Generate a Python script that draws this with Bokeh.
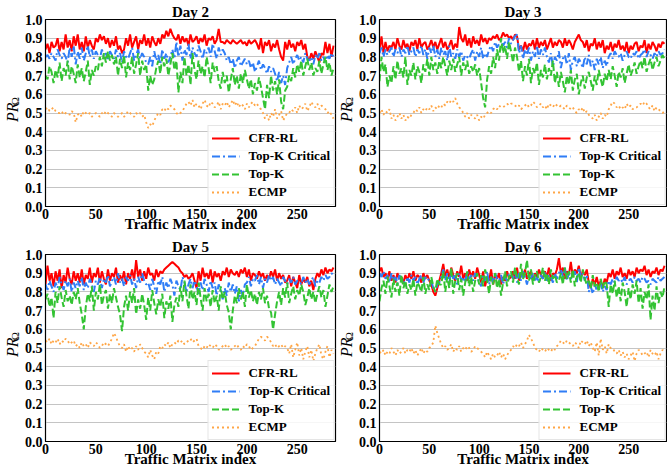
from bokeh.plotting import figure
from bokeh.layouts import gridplot
from bokeh.models import (Range1d, FixedTicker, PrintfTickFormatter, Label,
                          Legend, LegendItem)
from bokeh.embed import file_html
from bokeh.resources import INLINE

# ---------------- data (values in hundredths, every 2nd traffic matrix) ----------------
series_names = ["CFR-RL", "Top-K Critical", "Top-K", "ECMP"]
day_titles = ["Day 2", "Day 3", "Day 5", "Day 6"]
x_ticks = [0, 50, 100, 150, 200, 250]
y_ticks = [0.0, 0.1, 0.2, 0.3, 0.4, 0.5, 0.6, 0.7, 0.8, 0.9, 1.0]
x_label = "Traffic Matrix index"
y_label_main = "PR"
y_label_sub = "Ω"
tm_step = 2

cfr_day2 = [84, 87, 82, 88, 85, 86,
            90, 83, 88, 84, 92, 85, 89, 83, 91, 86, 92, 84, 88, 83, 91, 85, 89, 86, 84,
            90, 88, 92, 89, 91,
            87, 90, 85, 89, 86, 91, 84, 86, 82,
            84, 90, 86, 92, 85, 88, 91, 84, 89, 87, 92, 86, 90, 85, 91, 88, 86, 90, 87,
            92, 90, 94, 91, 95, 92, 90,
            89, 92, 87, 91, 88, 90, 86, 92, 88, 89, 91, 87, 90, 88, 92, 86, 90, 89, 91, 87, 89,
            95, 88,
            88, 87, 89, 88, 87, 89, 88, 87, 88, 89, 87, 88, 86, 89, 87, 88, 89, 87,
            84, 90, 82, 88, 86, 89, 83, 87, 85, 89, 84, 80, 78,
            88, 84, 89, 85, 87, 83, 88, 86, 89, 84, 87,
            80, 78, 82, 79, 83, 80, 77, 82,
            81, 88, 82, 87, 80, 86]
topkc_day2 = [80, 81, 79, 82, 80, 78, 84, 81, 79, 82, 80,
              77, 85, 80, 86, 76, 83, 79, 85, 78, 82, 86, 80, 84, 79, 83,
              81, 79, 84, 80, 82, 78, 83, 81, 79, 84, 80, 82, 77, 83, 80, 79, 82, 85, 78, 81,
              84, 79, 82, 80, 77,
              76, 80, 75, 83, 78, 81, 76, 84, 79, 82, 77, 80, 84, 79, 88,
              80, 86, 78, 84, 81, 87, 79, 85, 82, 80, 86, 83, 79, 84, 82, 85, 80, 87, 83, 79,
              85, 81, 84, 82,
              78, 80, 76, 79, 74, 78, 80, 75, 77, 79, 76, 78, 74, 77, 72, 75, 78, 73, 76, 74,
              71, 75, 72, 74, 71,
              67, 72, 66, 70, 65, 74,
              77, 80, 76, 79, 81, 78, 80, 77, 82, 79, 78, 80, 76, 81, 79, 82, 78, 80, 77, 81,
              79, 82, 80]
topk_day2 = [70, 68, 75, 72,
             66, 73, 69, 77, 67, 74, 70, 78, 68, 75, 71, 66, 76, 69, 74, 67, 72, 78, 65, 73,
             70, 75,
             73, 80, 75, 82, 77, 83, 78, 81, 76, 80,
             70, 79, 74, 81, 69, 77, 73, 80, 71, 76, 82, 70, 78, 73, 76,
             62, 70, 65, 68,
             74, 78, 71, 80, 75, 79, 70, 76, 82, 73, 78,
             61,
             72, 66, 80, 70, 76, 65, 82, 73, 68, 78, 71, 75, 69, 80, 74, 66, 77, 72, 75,
             67, 63, 72, 66, 70, 61, 68, 74, 65, 70, 63, 71, 66, 73, 68,
             63, 68, 60, 66, 62, 69, 64, 58,
             52,
             65, 58, 70, 62, 67, 60, 68, 56, 52, 62,
             64, 70, 67, 74, 69, 76, 72, 78, 70, 75, 79, 73, 77, 70, 74, 72, 78, 71, 76, 80,
             73, 77, 70, 74]
ecmp_day2 = [52, 53, 51, 52, 53, 51,
             50, 50, 51, 49, 50, 50, 49, 51, 50,
             45,
             49, 50, 48, 51, 50, 49, 50, 48, 49, 50, 49, 48, 50, 49, 51, 50, 49, 48, 50, 49,
             48, 49, 50, 48, 49, 51, 50, 49, 48, 50, 49, 50, 48, 49,
             45, 42, 44, 43, 46,
             48, 50, 49, 52, 51, 53, 52, 54, 53, 52,
             50, 49, 50, 51,
             53, 55, 56, 54, 57, 53, 55, 54, 52, 55, 57, 54, 53, 56, 55, 53, 54, 56, 52, 55,
             54, 56, 53, 55, 57, 54, 56, 53, 55, 54, 52, 55,
             53, 55, 56, 54, 55, 53, 52, 50,
             47, 49, 46, 50, 48, 52, 47, 49, 51, 46, 48, 50,
             50, 52, 51, 53, 50, 54, 52, 53, 55, 51, 53, 56, 54, 53, 55, 52, 54, 53, 52, 50,
             51, 49, 47]

cfr_day3 = [84, 91, 82, 88, 83, 86,
            85, 88, 84, 90, 86, 84, 89, 85, 87, 83, 88, 86, 89, 84, 90, 85, 87, 88, 84, 86,
            89, 85, 88, 84, 87, 90, 85, 88, 84, 86,
            89, 84, 87, 85,
            96, 90,
            88, 92, 86, 90, 85, 91, 87, 89, 86, 92, 88, 90, 87,
            90, 89, 91, 90, 92, 89, 90, 93, 91, 92, 90, 91, 89, 92, 91,
            84, 86, 83, 88, 84, 87,
            86, 89, 84, 90, 85, 88, 86, 89, 84, 87, 90, 85, 88, 86, 89, 88, 85, 90, 86, 89,
            87, 84, 88, 90,
            92, 89,
            88, 85, 89, 83, 87, 86, 90, 84, 88, 85, 89, 82, 86, 84, 88, 83, 87, 85, 89, 84,
            86, 83, 88, 82, 86, 84, 87, 88, 83, 86, 85, 89, 82, 87, 84, 88, 86, 83, 87, 85,
            88, 87]
topkc_day3 = [82, 85, 80, 84, 81, 83, 85, 80, 84, 82, 85,
              80, 84, 82, 86, 81, 83, 85, 80, 84, 82, 86, 81, 84, 79, 85, 82, 86, 80, 84,
              79, 85, 81, 83, 78, 86, 80, 82, 79, 84, 80, 83, 78, 81, 80, 79, 82, 84, 78, 83,
              80, 85, 79, 82, 80,
              84, 86, 83, 88, 85, 87, 89, 86, 88, 85, 90, 87, 89, 91, 92,
              82, 86, 79, 84, 81, 85, 78, 83, 80, 86, 79, 84, 81, 85, 80,
              77, 82, 75, 80, 78, 83, 74, 79, 81, 76, 82, 73, 78, 80, 75, 79, 77, 74, 80, 76,
              81, 75, 78, 73, 79, 76, 80, 74, 78, 75,
              80, 82, 79, 83, 81, 80, 82, 78, 81, 83, 80, 79, 82, 81, 83, 79, 81, 82, 84, 80,
              83, 81, 79, 82, 80, 83, 81, 82, 84]
topk_day3 = [67, 80, 72, 76,
             64, 70, 66, 75, 68, 78, 71, 74, 69, 80, 65, 73, 70, 77, 68, 75, 72,
             66, 76, 72, 79, 70, 80, 73, 77, 71, 78, 74, 80, 75, 70, 78, 73, 79, 72, 76, 80,
             70, 77, 73, 78, 71, 75, 72, 76, 70, 74,
             66,
             58, 53,
             68, 75, 71, 80, 74, 84, 78, 90, 82, 86, 79, 88, 83, 77, 85, 80,
             72, 78, 67, 75, 70, 79, 66, 74, 71, 77, 65, 73, 69, 76, 68, 74, 70, 78, 66, 72,
             64, 72, 67, 61, 70, 65, 73, 62, 68, 71, 60, 66, 70, 63, 69, 72, 67, 62, 70, 65,
             73, 68, 64, 71, 67,
             73, 68, 75, 70, 64, 72, 69, 74, 66, 71, 76, 70, 73, 77, 71, 75, 78, 74, 80, 72,
             76, 79, 73, 77, 80, 75, 78, 81, 79]
ecmp_day3 = [50, 52, 49, 51, 50, 52,
             47, 49, 46, 48, 50, 47, 49, 46, 48, 47, 49,
             50, 52, 51, 53, 50, 52, 51, 53, 52, 54, 51, 53, 52, 54,
             53, 55, 54, 56, 55, 57, 56, 58,
             55, 53, 52, 50,
             48, 50, 47, 49, 48, 47, 49, 46, 48, 47, 49,
             50, 51, 50,
             52, 53, 52, 54, 53, 53, 54, 55, 54, 55, 55, 54, 53, 54, 52, 53, 54, 55, 53, 54,
             56, 55, 53, 54, 55, 53, 54, 52, 55, 54, 53, 55, 54, 53,
             54, 53, 52, 54, 53, 52, 53, 51, 50, 52, 51, 53, 50, 51,
             49, 48, 47, 49, 46, 48, 50, 47, 49, 48,
             52, 54, 56, 55, 53, 54, 52, 53, 52, 55, 53, 54, 52, 53,
             53, 54, 55, 54, 56, 55, 53, 52, 54, 51, 53, 52, 51, 50, 51]

cfr_day5 = [84, 94, 86, 90,
            83, 91, 86, 92, 82, 89, 85, 93, 87, 84, 91, 86, 90, 85, 92, 84, 89, 87, 93, 85,
            90,
            88, 93, 85, 91, 87, 84, 92, 86, 90, 88, 93, 85, 89, 86, 91, 84, 90, 87, 92, 86,
            97,
            88, 92, 86, 91, 87, 93, 89, 90, 86, 92, 88, 91,
            90, 92, 93, 94, 95, 96, 95, 94, 93, 91,
            90, 88, 89, 87, 88, 90, 86,
            82,
            91, 86, 93, 88, 90, 87, 92, 85, 91, 88, 90,
            86, 91, 89, 93, 88, 92, 90, 89, 91, 88, 92, 90, 93,
            88, 92, 86, 90, 89, 87, 91, 88, 90, 86, 89, 87, 91, 88, 92, 86, 90, 87, 89, 85,
            86, 89, 83, 88, 85, 82, 89, 84, 87, 85, 88, 83, 86, 81, 87,
            90, 88, 92, 89, 93, 90, 92, 91, 93]
topkc_day5 = [84, 81, 86, 83, 80, 85, 82, 88, 84, 81, 86, 83, 87, 80, 85, 82, 86, 83, 88, 81,
              85, 82, 87, 84, 80, 86,
              84, 88, 82, 87, 85, 89, 83, 86, 88, 84, 90, 85, 87, 83, 88, 86, 89, 84, 87, 82,
              88, 85, 90, 86, 84,
              85, 81, 87, 83, 79, 86, 84, 88, 80, 85, 82, 87, 84, 78, 86, 83, 81, 88, 85, 80,
              84, 87, 82, 86, 83, 79, 85, 81, 87, 84, 80, 86, 82, 85, 78, 84, 81,
              76, 82, 78, 85, 80, 84, 79, 83, 75, 81, 78, 84,
              85, 88, 83, 87, 86, 89, 84, 88, 82, 87, 85, 89, 86, 88, 84, 87, 85, 83, 88, 86,
              84, 87, 85, 88, 84, 86,
              86, 84, 88, 85, 87, 84, 86, 88, 83, 86, 85, 88, 86, 89, 87, 88, 90, 89]
topk_day5 = [76, 79, 72, 77,
             66,
             80, 74, 83, 77, 72, 81, 75, 78, 73, 80, 76, 82, 74,
             68,
             60,
             72, 79, 75, 83, 70, 80, 76, 84, 73, 78, 81, 71, 79, 74, 82, 77, 72, 68,
             59,
             72, 78, 70, 80, 74, 82, 68, 76, 71, 79, 73, 65, 77, 70, 81, 74, 68, 76, 72, 79,
             66, 75, 71, 78, 64, 73, 77,
             72, 83, 75, 86, 78, 71, 84, 76, 80, 73, 85, 77, 70, 82, 75, 79, 72, 81, 74, 78,
             70, 83, 76, 80, 73, 69,
             60,
             70, 78, 74, 82, 76, 80, 72, 84, 77, 81, 75, 79, 73, 80, 76, 82, 74, 78, 71, 69,
             60,
             68, 75, 80, 73, 82, 77, 85, 74, 79, 83, 76, 81, 78, 84, 80, 73, 77, 82, 76, 80,
             74, 79, 83, 77, 81, 72, 78, 84, 80, 83]
ecmp_day5 = [54, 53, 55, 52, 54, 53, 55, 52, 54, 53, 55, 54, 52, 53, 54,
             51, 52, 50, 53, 51, 52, 50, 53, 52, 51, 53, 52, 50, 51, 53, 52, 51, 53,
             55, 58, 56,
             53, 51, 50, 52, 48, 51, 49, 50, 48, 51, 49, 52, 50, 48,
             47, 45, 49, 46, 44, 48, 47,
             51, 50, 52, 51, 53, 50, 52, 53, 52, 54, 53, 54, 52, 53, 54, 55, 53, 54, 55,
             51, 50, 49, 51, 50, 52, 51, 50, 52, 51, 49, 50, 51, 52, 50, 51, 49, 50, 51, 52,
             50, 49, 51, 50, 52, 51, 49, 50, 51,
             53, 55, 56, 55, 54, 56, 55, 53,
             51, 52, 50, 51, 52, 50, 51, 50,
             47, 52, 45, 49, 53, 46, 50, 44, 48, 51, 45, 49, 43, 47, 50, 52, 46, 44, 48, 51,
             45, 49, 47]

cfr_day6 = [91, 93, 88, 90, 87, 91, 86, 89, 85, 90, 87, 88, 85, 89, 86, 90, 87, 91, 86, 89,
            88, 85, 90, 87, 89, 86,
            84, 80, 78, 82, 86,
            90, 95, 88, 92, 87, 93, 89, 86, 91, 88, 94, 87, 90, 86, 92, 88, 91, 87, 93, 89,
            85, 91, 83, 88, 86, 92, 84, 89, 87, 90, 84, 88, 86, 91, 87,
            88, 91, 87, 93, 86, 90, 88, 92, 87, 89, 91, 86, 90, 88, 92, 89, 87, 91, 88, 93,
            86, 90, 89, 92,
            98,
            90, 93, 87, 91, 89, 96, 88, 92, 90, 94, 88, 91, 89, 92,
            85, 82, 87, 84, 88, 83, 86, 82, 87, 85,
            90, 88, 92, 87, 91, 89, 93, 88, 90, 87, 92, 89, 91, 88, 93, 90, 92, 91, 94, 89,
            92, 88, 91, 90, 93, 89, 92, 91, 94]
topkc_day6 = [90, 88, 91, 87, 89, 85, 90, 86, 88, 84, 89, 86, 87, 83, 88, 85, 89, 86, 88, 84,
              87, 89, 85, 88, 86, 87,
              86, 82, 80, 84, 85,
              88, 92, 86, 90, 85, 91, 87, 89, 84, 90, 86, 88, 85, 91, 87, 89, 86, 90, 88, 85,
              83, 89, 86, 91, 84, 88, 85, 90, 87, 86, 89, 84, 88, 86, 90,
              89, 87, 92, 85, 90, 86, 91, 88, 84, 89, 87, 90, 86, 88, 85, 89, 87, 91, 86, 89,
              88, 85, 90, 87,
              90,
              92, 88, 93, 86, 90, 87, 89, 91, 85, 93, 88, 90, 86, 89,
              80, 83, 79, 84, 81, 82, 85, 80, 83, 81,
              86, 84, 87, 85, 88, 86, 87, 85, 88, 84, 86, 87, 85, 88, 86, 87, 85, 88, 87, 85,
              86, 84, 87, 86, 85, 88, 86, 87, 88]
topk_day6 = [75, 82, 86, 79, 88, 83, 77, 87, 80, 85, 78, 89, 82, 86, 79, 84, 81, 87, 78, 85,
             83, 80, 88, 79, 84, 81,
             88, 83, 80, 87, 84,
             84, 91, 80, 88, 82, 93, 79, 86, 90, 81, 87, 78, 85, 91, 83, 88, 80, 86, 90, 84,
             89, 83, 92, 86, 79, 88, 84, 90, 82, 87, 78, 85, 91, 83, 88,
             91, 85, 93, 88, 84, 95, 87, 90, 97, 86, 92, 84, 89, 91, 85, 88, 93, 86, 90, 84,
             92, 87, 89, 85,
             86,
             90, 84, 93, 87, 91, 85, 92, 83, 88, 90, 85, 92, 87, 84,
             86, 82, 89, 83, 85, 80, 87, 82, 86, 84,
             72, 84, 79, 86, 77, 83, 75, 85, 80, 72, 82, 76, 84, 79, 86, 74, 82, 71, 80, 76,
             84, 65, 78, 70, 83, 74, 80, 77, 83]
ecmp_day6 = [48, 47, 49, 46, 48, 47, 50, 48, 46, 49, 47, 48, 50, 47, 49, 48, 50, 47, 49, 46,
             48, 50, 47, 49, 48, 50,
             51, 53, 62,
             58, 55,
             52, 50, 51, 49, 50, 52, 48, 50, 49, 51, 48, 50, 49, 51, 50, 48, 49, 51, 50, 49,
             48, 47, 45, 48, 46, 44, 47, 45, 46, 48, 45, 47, 44, 46, 48,
             49, 51, 50, 52, 51, 53, 50, 52, 54,
             57, 55,
             53, 50, 49, 48, 50, 49, 48, 50, 49, 48, 50, 49, 51,
             52, 54, 53, 52, 54, 53, 52, 51, 53, 52, 50, 54, 53, 52, 54, 51, 53, 50,
             48, 53, 46, 55, 49, 51, 47, 52, 50,
             50, 48, 47, 49, 46, 48, 45, 47, 44, 46, 48, 43, 47, 49, 48, 46, 47, 48, 45, 49,
             47, 46, 48, 44, 47, 49, 48]

day_series = [
    [cfr_day2, topkc_day2, topk_day2, ecmp_day2],
    [cfr_day3, topkc_day3, topk_day3, ecmp_day3],
    [cfr_day5, topkc_day5, topk_day5, ecmp_day5],
    [cfr_day6, topkc_day6, topk_day6, ecmp_day6],
]

# ---------------- styles ----------------
colors = ["#ff0000", "#2f7df6", "#33c333", "#ffa646"]
dashes = ["solid", "8 3 2 3", "7 3", "2 3"]
widths = [2, 2, 2, 1.8]
SERIF = "Liberation Serif"

TOP = 19      # room for the title
BOTTOM = 29   # room for tick labels + x axis label
ROW_H = 235
FRAME_H = ROW_H - TOP - BOTTOM


def make_panel(title, series, width, left, right):
    p = figure(width=width, height=ROW_H, output_backend="svg", toolbar_location=None,
               x_range=Range1d(0, 288), y_range=Range1d(0, 1.0),
               min_border_left=left, min_border_right=right,
               min_border_top=TOP, min_border_bottom=BOTTOM,
               background_fill_color="white", border_fill_color="white")
    p.title.text = title
    p.title.align = "center"
    p.title.text_font = SERIF
    p.title.text_font_style = "bold"
    p.title.text_font_size = "15px"
    p.title.text_color = "black"
    p.title.standoff = 0

    p.outline_line_color = "black"
    p.outline_line_width = 1.2
    p.xgrid.grid_line_color = None
    p.ygrid.grid_line_color = "#c4c4c4"
    p.ygrid.grid_line_width = 1
    p.ygrid.ticker = FixedTicker(ticks=y_ticks)
    p.xaxis.ticker = FixedTicker(ticks=x_ticks)
    p.yaxis.ticker = FixedTicker(ticks=y_ticks)
    p.yaxis.formatter = PrintfTickFormatter(format="%.1f")
    for ax in (p.xaxis[0], p.yaxis[0]):
        ax.axis_line_color = "black"
        ax.major_tick_line_color = None
        ax.minor_tick_line_color = None
        ax.major_tick_out = 0
        ax.major_tick_in = 0
        ax.major_label_text_font = SERIF
        ax.major_label_text_font_style = "bold"
        ax.major_label_text_font_size = "14px"
        ax.major_label_text_color = "black"
    p.xaxis.major_label_standoff = 2
    p.yaxis.major_label_standoff = 3
    p.xaxis.axis_label = x_label
    p.xaxis.axis_label_text_font = SERIF
    p.xaxis.axis_label_text_font_style = "bold"
    p.xaxis.axis_label_text_font_size = "15px"
    p.xaxis.axis_label_text_color = "black"
    p.xaxis.axis_label_standoff = -6

    items = []
    for name, vals, c, d, w in zip(series_names, series, colors, dashes, widths):
        xs = [tm_step * i for i in range(len(vals))]
        ys = [v / 100 for v in vals]
        r = p.line(xs, ys, line_color=c, line_width=w, line_dash=d)
        items.append(LegendItem(label=name, renderers=[r]))

    legend = Legend(items=items, location="bottom_right", margin=1, padding=3, spacing=0,
                    label_height=18, glyph_height=18, glyph_width=28, label_standoff=9,
                    label_text_font=SERIF, label_text_font_style="bold",
                    label_text_font_size="13px", label_text_color="black",
                    border_line_color="#cccccc", border_line_width=1,
                    background_fill_color="white", background_fill_alpha=0.85)
    p.add_layout(legend)
    return p


def make_ylabel(width, pr_x):
    # narrow strip left of a panel, holding the y-axis label PR with subscript Omega
    q = figure(width=width, height=ROW_H, output_backend="svg", toolbar_location=None,
               x_range=Range1d(0, width), y_range=Range1d(0, ROW_H),
               x_axis_type=None, y_axis_type=None,
               min_border_left=0, min_border_right=0, min_border_top=0, min_border_bottom=0,
               background_fill_color="white", border_fill_color="white")
    q.outline_line_color = None
    q.grid.grid_line_color = None
    frame_mid = BOTTOM + FRAME_H / 2.0
    q.add_layout(Label(x=pr_x, y=frame_mid - 4, text=y_label_main, angle=1.5707963,
                       text_align="center", text_baseline="middle", text_font=SERIF,
                       text_font_style="italic", text_font_size="16px", text_color="black"))
    q.add_layout(Label(x=pr_x + 2.5, y=frame_mid + 10, text=y_label_sub, angle=1.5707963,
                       text_align="center", text_baseline="middle", text_font=SERIF,
                       text_font_size="11px", text_color="black"))
    return q


# column geometry: (label strip width, PR centre in strip, left border, frame width, right border)
col_geo = [(21, 12, 23, 291, 2), (18, 9, 23, 288, 1)]

cells = []
for k, (title, series) in enumerate(zip(day_titles, day_series)):
    c = k % 2
    sw, prx, l, fw, rt = col_geo[c]
    cells.append(make_ylabel(sw, prx))
    cells.append(make_panel(title, series, l + fw + rt, l, rt))

grid = gridplot([cells[0:4], cells[4:8]], toolbar_location=None)

open("out.html", "w").write(file_html(grid, INLINE))
